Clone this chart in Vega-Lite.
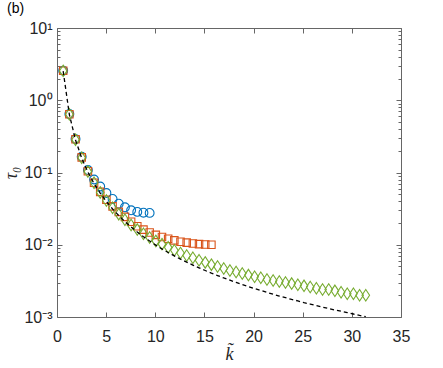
{
  "$schema": "https://vega.github.io/schema/vega-lite/v6.json",
  "autosize": {"type": "none"},
  "width": 344,
  "height": 289,
  "padding": {"left": 57, "top": 28, "right": 42, "bottom": 51},
  "background": "white",
  "title": {"text": "(b)", "anchor": "start", "frame": "group", "dx": -50, "offset": 4, "fontSize": 14, "font": "Liberation Sans", "fontWeight": "normal", "color": "#000000"},
  "config": {
    "view": {"stroke": null},
    "axis": {"grid": false, "domainColor": "#666666", "tickColor": "#666666", "domainWidth": 1, "tickWidth": 1, "labelFont": "Liberation Sans", "labelFontSize": 16, "labelColor": "#262626", "titleColor": "#262626"}
  },
  "datasets": {
    "pts": [
      {"k": 0.628, "tau": 2.57, "s": "blue"}, {"k": 1.257, "tau": 0.645, "s": "blue"}, {"k": 1.885, "tau": 0.29, "s": "blue"}, {"k": 2.513, "tau": 0.165, "s": "blue"}, {"k": 3.142, "tau": 0.108, "s": "blue"},
      {"k": 3.770, "tau": 0.080, "s": "blue"}, {"k": 4.398, "tau": 0.064, "s": "blue"}, {"k": 5.027, "tau": 0.052, "s": "blue"}, {"k": 5.655, "tau": 0.043, "s": "blue"}, {"k": 6.283, "tau": 0.037, "s": "blue"},
      {"k": 6.912, "tau": 0.033, "s": "blue"}, {"k": 7.540, "tau": 0.030, "s": "blue"}, {"k": 8.168, "tau": 0.0285, "s": "blue"}, {"k": 8.796, "tau": 0.0278, "s": "blue"}, {"k": 9.425, "tau": 0.0276, "s": "blue"},
      {"k": 0.628, "tau": 2.56, "s": "red"}, {"k": 1.257, "tau": 0.64, "s": "red"}, {"k": 1.885, "tau": 0.288, "s": "red"}, {"k": 2.513, "tau": 0.162, "s": "red"}, {"k": 3.142, "tau": 0.104, "s": "red"},
      {"k": 3.770, "tau": 0.072, "s": "red"}, {"k": 4.398, "tau": 0.054, "s": "red"}, {"k": 5.027, "tau": 0.042, "s": "red"}, {"k": 5.655, "tau": 0.034, "s": "red"}, {"k": 6.283, "tau": 0.0285, "s": "red"},
      {"k": 6.912, "tau": 0.0243, "s": "red"}, {"k": 7.540, "tau": 0.0208, "s": "red"}, {"k": 8.168, "tau": 0.0180, "s": "red"}, {"k": 8.796, "tau": 0.0162, "s": "red"}, {"k": 9.425, "tau": 0.0148, "s": "red"},
      {"k": 10.053, "tau": 0.0137, "s": "red"}, {"k": 10.681, "tau": 0.0128, "s": "red"}, {"k": 11.310, "tau": 0.0121, "s": "red"}, {"k": 11.938, "tau": 0.0115, "s": "red"}, {"k": 12.566, "tau": 0.0110, "s": "red"},
      {"k": 13.195, "tau": 0.0107, "s": "red"}, {"k": 13.823, "tau": 0.0104, "s": "red"}, {"k": 14.451, "tau": 0.0102, "s": "red"}, {"k": 15.080, "tau": 0.0101, "s": "red"}, {"k": 15.708, "tau": 0.0100, "s": "red"},
      {"k": 0.628, "tau": 2.55, "s": "green"}, {"k": 1.257, "tau": 0.64, "s": "green"}, {"k": 1.885, "tau": 0.285, "s": "green"}, {"k": 2.513, "tau": 0.160, "s": "green"}, {"k": 3.142, "tau": 0.103, "s": "green"},
      {"k": 3.770, "tau": 0.072, "s": "green"}, {"k": 4.398, "tau": 0.053, "s": "green"}, {"k": 5.027, "tau": 0.041, "s": "green"}, {"k": 5.655, "tau": 0.0325, "s": "green"}, {"k": 6.283, "tau": 0.0265, "s": "green"},
      {"k": 6.912, "tau": 0.0222, "s": "green"}, {"k": 7.540, "tau": 0.0188, "s": "green"}, {"k": 8.168, "tau": 0.0162, "s": "green"}, {"k": 8.796, "tau": 0.0142, "s": "green"}, {"k": 9.425, "tau": 0.0126, "s": "green"},
      {"k": 10.053, "tau": 0.0113, "s": "green"}, {"k": 10.681, "tau": 0.0102, "s": "green"}, {"k": 11.310, "tau": 0.0092, "s": "green"}, {"k": 11.938, "tau": 0.0084, "s": "green"}, {"k": 12.566, "tau": 0.0077, "s": "green"},
      {"k": 13.195, "tau": 0.0071, "s": "green"}, {"k": 13.823, "tau": 0.0066, "s": "green"}, {"k": 14.451, "tau": 0.0061, "s": "green"}, {"k": 15.080, "tau": 0.0057, "s": "green"}, {"k": 15.708, "tau": 0.0053, "s": "green"},
      {"k": 16.336, "tau": 0.0050, "s": "green"}, {"k": 16.965, "tau": 0.0047, "s": "green"}, {"k": 17.593, "tau": 0.0044, "s": "green"}, {"k": 18.221, "tau": 0.0042, "s": "green"}, {"k": 18.850, "tau": 0.0040, "s": "green"},
      {"k": 19.478, "tau": 0.0038, "s": "green"}, {"k": 20.106, "tau": 0.0036, "s": "green"}, {"k": 20.735, "tau": 0.0035, "s": "green"}, {"k": 21.363, "tau": 0.0033, "s": "green"}, {"k": 21.991, "tau": 0.0032, "s": "green"},
      {"k": 22.619, "tau": 0.0031, "s": "green"}, {"k": 23.248, "tau": 0.0030, "s": "green"}, {"k": 23.876, "tau": 0.0029, "s": "green"}, {"k": 24.504, "tau": 0.0028, "s": "green"}, {"k": 25.133, "tau": 0.0027, "s": "green"},
      {"k": 25.761, "tau": 0.0026, "s": "green"}, {"k": 26.389, "tau": 0.0025, "s": "green"}, {"k": 27.018, "tau": 0.0024, "s": "green"}, {"k": 27.646, "tau": 0.0024, "s": "green"}, {"k": 28.274, "tau": 0.0023, "s": "green"},
      {"k": 28.903, "tau": 0.0022, "s": "green"}, {"k": 29.531, "tau": 0.0021, "s": "green"}, {"k": 30.159, "tau": 0.0021, "s": "green"}, {"k": 30.788, "tau": 0.0020, "s": "green"}, {"k": 31.416, "tau": 0.0020, "s": "green"}
    ],
    "curve": [
      {"k": 0.628, "tau": 2.533}, {"k": 1.257, "tau": 0.6333}, {"k": 1.885, "tau": 0.2814}, {"k": 2.513, "tau": 0.1583}, {"k": 3.142, "tau": 0.1013},
      {"k": 3.770, "tau": 0.0704}, {"k": 4.398, "tau": 0.0517}, {"k": 5.027, "tau": 0.0396}, {"k": 5.655, "tau": 0.0313}, {"k": 6.283, "tau": 0.02533},
      {"k": 6.912, "tau": 0.02093}, {"k": 7.540, "tau": 0.01759}, {"k": 8.168, "tau": 0.01499}, {"k": 8.796, "tau": 0.01292}, {"k": 9.425, "tau": 0.01126},
      {"k": 10.053, "tau": 0.00989}, {"k": 10.681, "tau": 0.00876}, {"k": 11.310, "tau": 0.00782}, {"k": 11.938, "tau": 0.00702}, {"k": 12.566, "tau": 0.00633},
      {"k": 13.195, "tau": 0.00574}, {"k": 13.823, "tau": 0.00523}, {"k": 14.451, "tau": 0.00479}, {"k": 15.080, "tau": 0.00440}, {"k": 15.708, "tau": 0.00405},
      {"k": 16.336, "tau": 0.00375}, {"k": 16.965, "tau": 0.00347}, {"k": 17.593, "tau": 0.00323}, {"k": 18.221, "tau": 0.00301}, {"k": 18.850, "tau": 0.00281},
      {"k": 19.478, "tau": 0.00264}, {"k": 20.106, "tau": 0.00247}, {"k": 20.735, "tau": 0.00233}, {"k": 21.363, "tau": 0.00219}, {"k": 21.991, "tau": 0.00207},
      {"k": 22.619, "tau": 0.00195}, {"k": 23.248, "tau": 0.00185}, {"k": 23.876, "tau": 0.00175}, {"k": 24.504, "tau": 0.00167}, {"k": 25.133, "tau": 0.00158},
      {"k": 25.761, "tau": 0.00151}, {"k": 26.389, "tau": 0.00144}, {"k": 27.018, "tau": 0.00137}, {"k": 27.646, "tau": 0.00131}, {"k": 28.274, "tau": 0.00125},
      {"k": 28.903, "tau": 0.00120}, {"k": 29.531, "tau": 0.00115}, {"k": 30.159, "tau": 0.00110}, {"k": 30.788, "tau": 0.00105}, {"k": 31.416, "tau": 0.00101}
    ]
  },
  "layer": [
    {
      "data": {"name": "pts"},
      "transform": [{"filter": "datum.s === 'blue'"}],
      "mark": {"type": "point", "shape": "circle", "filled": false, "stroke": "#0072BD", "strokeWidth": 1.1, "size": 78, "opacity": 1},
      "encoding": {
        "x": {"field": "k", "type": "quantitative", "scale": {"domain": [0, 35], "nice": false, "zero": false},
          "axis": {"orient": "bottom", "values": [0, 5, 10, 15, 20, 25, 30, 35], "tickSize": -5, "labelPadding": 16, "labelFlush": false, "labelOverlap": false,
            "title": "k\u0303", "titleFont": "Liberation Serif", "titleFontStyle": "italic", "titleFontWeight": "normal", "titleFontSize": 18, "titlePadding": 1}},
        "y": {"field": "tau", "type": "quantitative", "scale": {"type": "log", "domain": [0.001, 10], "nice": false},
          "axis": {"orient": "left", "values": [0.001, 0.01, 0.1, 1, 10], "tickSize": -5, "labelPadding": 10, "labelFlush": false, "labelOverlap": false,
            "labelExpr": "datum.value >= 5 ? '10¹' : datum.value >= 0.5 ? '10⁰' : datum.value >= 0.05 ? '10⁻¹' : datum.value >= 0.005 ? '10⁻²' : '10⁻³'",
            "title": "τ₀", "titleFont": "Liberation Serif", "titleFontStyle": "italic", "titleFontWeight": "normal", "titleFontSize": 18, "titlePadding": 3}}
      }
    },
    {
      "data": {"name": "pts"},
      "transform": [{"filter": "datum.s === 'red'"}],
      "mark": {"type": "point", "shape": "square", "filled": false, "stroke": "#D95319", "strokeWidth": 1.1, "size": 56, "opacity": 1},
      "encoding": {
        "x": {"field": "k", "type": "quantitative", "scale": {"domain": [0, 35], "nice": false, "zero": false},
          "axis": {"orient": "top", "values": [0, 5, 10, 15, 20, 25, 30, 35], "tickSize": -5, "labels": false, "title": null}},
        "y": {"field": "tau", "type": "quantitative", "scale": {"type": "log", "domain": [0.001, 10], "nice": false},
          "axis": {"orient": "right", "values": [0.001, 0.01, 0.1, 1, 10], "tickSize": -5, "labels": false, "title": null}}
      }
    },
    {
      "data": {"name": "pts"},
      "transform": [{"filter": "datum.s === 'green'"}],
      "mark": {"type": "point", "shape": "M0,-1L0.66,0L0,1L-0.66,0Z", "filled": false, "stroke": "#77AC30", "strokeWidth": 1.1, "size": 132, "opacity": 1},
      "encoding": {
        "x": {"field": "k", "type": "quantitative", "scale": {"domain": [0, 35], "nice": false, "zero": false}, "axis": null},
        "y": {"field": "tau", "type": "quantitative", "scale": {"type": "log", "domain": [0.001, 10], "nice": false},
          "axis": {"orient": "left", "values": [0.002, 0.003, 0.004, 0.005, 0.006, 0.007, 0.008, 0.009, 0.02, 0.03, 0.04, 0.05, 0.06, 0.07, 0.08, 0.09, 0.2, 0.3, 0.4, 0.5, 0.6, 0.7, 0.8, 0.9, 2, 3, 4, 5, 6, 7, 8, 9],
            "tickSize": -3, "labels": false, "domain": false, "title": null}}
      }
    },
    {
      "data": {"name": "curve"},
      "mark": {"type": "line", "stroke": "#000000", "strokeWidth": 1.3, "strokeDash": [4, 3]},
      "encoding": {
        "x": {"field": "k", "type": "quantitative", "scale": {"domain": [0, 35], "nice": false, "zero": false}, "axis": null},
        "y": {"field": "tau", "type": "quantitative", "scale": {"type": "log", "domain": [0.001, 10], "nice": false},
          "axis": {"orient": "right", "values": [0.002, 0.003, 0.004, 0.005, 0.006, 0.007, 0.008, 0.009, 0.02, 0.03, 0.04, 0.05, 0.06, 0.07, 0.08, 0.09, 0.2, 0.3, 0.4, 0.5, 0.6, 0.7, 0.8, 0.9, 2, 3, 4, 5, 6, 7, 8, 9],
            "tickSize": -3, "labels": false, "domain": false, "title": null}}
      }
    }
  ],
  "resolve": {"axis": {"x": "independent", "y": "independent"}}
}
